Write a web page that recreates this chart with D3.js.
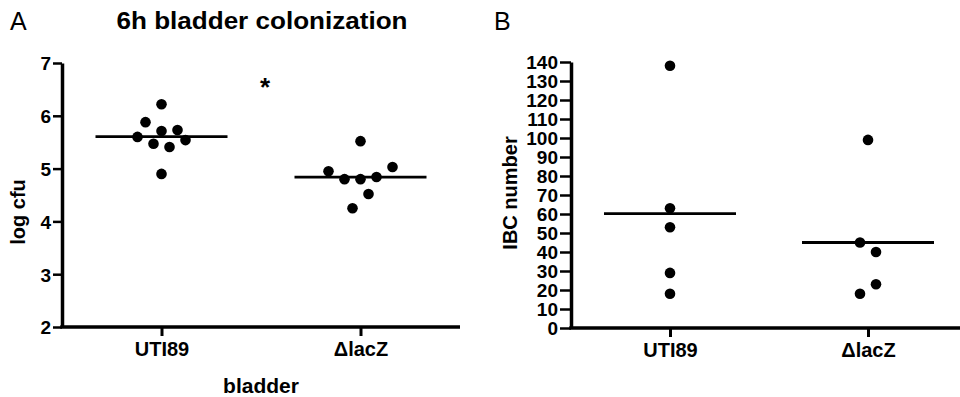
<!DOCTYPE html>
<html>
<head>
<meta charset="utf-8">
<script src="https://cdn.jsdelivr.net/npm/d3@7"></script>
<style>
  html, body { margin: 0; padding: 0; background: #fff; }
  svg { display: block; font-family: "Liberation Sans", Arial, sans-serif; }
</style>
</head>
<body>
<svg id="chart" width="960" height="397"></svg>
<script>
// ---------- DATA ----------
const groups = ["UTI89", "\u0394lacZ"];

// Panel A: 6h bladder colonization (log cfu)
const aUTI89 = [6.22, 5.88, 5.71, 5.73, 5.60, 5.54, 5.47, 5.41, 4.90];
const aUTI89Jitter = [0, -2, 0, 2, -3, 3, -1, 1, 0];
const aLacZ = [5.52, 4.95, 5.03, 4.80, 4.80, 4.84, 4.52, 4.25];
const aLacZJitter = [0, -4, 4, -2, 0, 2, 1, -1];
const aTicks = [2, 3, 4, 5, 6, 7];

// Panel B: IBC number
const bUTI89 = [138, 63, 53, 29, 18];
const bUTI89Jitter = [0, 0, 0, 0, 0];
const bLacZ = [99, 45, 40, 23, 18];
const bLacZJitter = [0, -1, 1, 1, -1];
const bTicks = d3.range(0, 141, 10);

// ---------- DRAW ----------
const svg = d3.select("#chart");
const jitterPx = 8;
const dotR = 5.3;
const meanHalf = 66;

function panel(cfg) {
  const g = svg.append("g");
  const x = d3.scalePoint().domain(groups).range([cfg.x0, cfg.x1]).padding(0.5);
  const y = d3.scaleLinear().domain(cfg.domain).range([cfg.y0, cfg.y1]);

  // y axis
  const yAxis = d3.axisLeft(y).tickValues(cfg.ticks).tickFormat(d3.format("d"))
    .tickSize(cfg.tickLen).tickPadding(2).tickSizeOuter(0);
  const ya = g.append("g").attr("transform", `translate(${cfg.x0},0)`).call(yAxis);
  ya.select(".domain").attr("stroke", "#000").attr("stroke-width", 3.5);
  ya.selectAll(".tick line").attr("stroke", "#000").attr("stroke-width", 2.5);
  ya.selectAll(".tick text").attr("fill", "#000").style("font-size", "19px").style("font-weight", "bold")
    .attr("dy", "0.36em");

  // x axis
  const xAxis = d3.axisBottom(x).tickSize(9).tickPadding(6).tickSizeOuter(0);
  const xa = g.append("g").attr("transform", `translate(0,${cfg.y0})`).call(xAxis);
  xa.select(".domain").attr("stroke", "#000").attr("stroke-width", 3.5)
    .attr("d", `M${cfg.x0 - 1.75},0H${cfg.x1}`);
  xa.selectAll(".tick line").attr("stroke", "#000").attr("stroke-width", 3);
  xa.selectAll(".tick text").attr("fill", "#000").style("font-size", "20px").style("font-weight", "bold");

  // series
  cfg.series.forEach(s => {
    const cx = x(s.name);
    const pts = s.values.map((v, i) => ({ v, j: s.jitter[i] }));
    g.selectAll(null).data(pts).enter().append("circle")
      .attr("cx", d => cx + d.j * cfg.jit)
      .attr("cy", d => y(d.v))
      .attr("r", dotR)
      .attr("fill", "#000");
    const m = d3.mean(s.values);
    g.append("line")
      .attr("x1", cx - meanHalf).attr("x2", cx + meanHalf)
      .attr("y1", y(m)).attr("y2", y(m))
      .attr("stroke", "#000").attr("stroke-width", 2.8);
  });

  // y label
  g.append("text")
    .attr("transform", `translate(${cfg.ylabX},${cfg.ylabY}) rotate(-90)`)
    .attr("text-anchor", "middle")
    .style("font-size", "20px").style("font-weight", "bold")
    .text(cfg.ylabel);

  // panel letter
  g.append("text").attr("x", cfg.letterX).attr("y", 30)
    .style("font-size", "25px").text(cfg.letter);
  return { g, x, y };
}

const A = panel({
  x0: 62, x1: 460, y0: 327, y1: 63, domain: [2, 7], ticks: aTicks, tickLen: 9,
  series: [
    { name: groups[0], values: aUTI89, jitter: aUTI89Jitter },
    { name: groups[1], values: aLacZ, jitter: aLacZJitter }
  ],
  jit: jitterPx,
  ylabel: "log cfu", ylabX: 25, ylabY: 212,
  letter: "A", letterX: 10
});

// title, asterisk and x label of A
svg.append("text").attr("x", 262).attr("y", 29).attr("text-anchor", "middle")
  .style("font-size", "24px").style("font-weight", "bold")
  .attr("textLength", 291).attr("lengthAdjust", "spacingAndGlyphs")
  .text("6h bladder colonization");
svg.append("text").attr("x", 265).attr("y", 96).attr("text-anchor", "middle")
  .style("font-size", "26px").style("font-weight", "bold").text("*");
svg.append("text").attr("x", 261).attr("y", 393).attr("text-anchor", "middle")
  .style("font-size", "21px").style("font-weight", "bold").text("bladder");

const B = panel({
  x0: 571, x1: 967, y0: 328, y1: 62, domain: [0, 140], ticks: bTicks, tickLen: 11,
  series: [
    { name: groups[0], values: bUTI89, jitter: bUTI89Jitter },
    { name: groups[1], values: bLacZ, jitter: bLacZJitter }
  ],
  jit: 8,
  ylabel: "IBC number", ylabX: 517, ylabY: 193,
  letter: "B", letterX: 494
});
</script>
</body>
</html>
